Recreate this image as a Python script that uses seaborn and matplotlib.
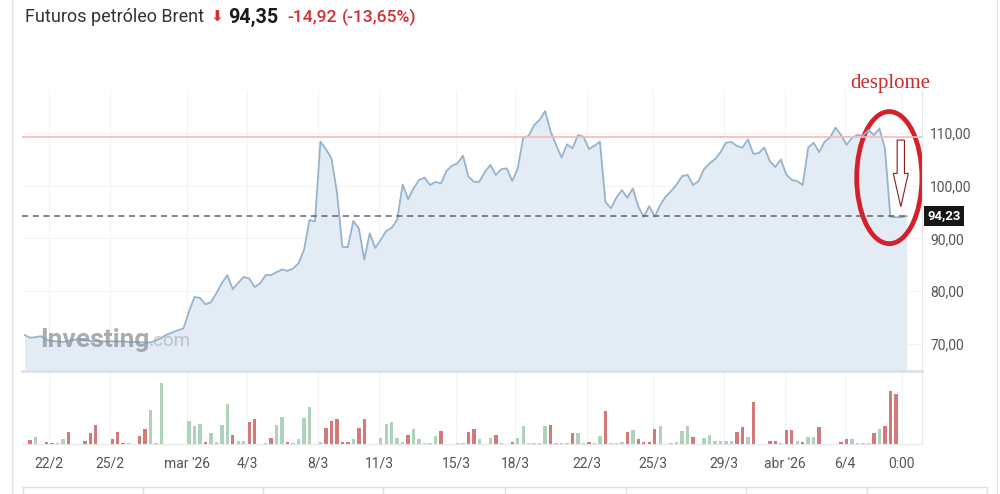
import numpy as np
import pandas as pd
import seaborn as sns
import matplotlib.pyplot as plt
from matplotlib.patches import Ellipse, FancyArrow
from matplotlib.lines import Line2D

# price (close) per bar, bar index -1 .. 160
price = [71.7, 71.2, 71.3, 71.5, 70.8, 70.6, 70.5, 70.4, 70.6, 70.8,
         70.9, 70.7, 70.6, 70.55, 70.5, 70.5, 70.55, 70.5, 70.5, 70.4,
         70.4, 70.35, 70.3, 70.3, 70.7, 71.2, 71.8, 72.2, 72.6, 72.95,
         76.1, 78.9, 78.75, 77.5, 77.9, 79.6, 81.5, 83.05, 80.4, 81.6,
         82.7, 82.4, 80.8, 81.5, 83.05, 83.05, 83.6, 84.1, 83.85, 84.3,
         85.3, 87.8, 93.5, 93.2, 108.3, 106.9, 105.15, 98.8, 88.4, 88.35,
         93.3, 91.9, 86.0, 90.95, 88.2, 89.7, 91.4, 92.0, 93.5, 100.2,
         97.4, 99.5, 101.05, 101.5, 100.1, 100.7, 100.4, 102.75, 103.75, 104.2,
         105.65, 101.7, 100.7, 100.7, 102.6, 103.9, 102.0, 103.1, 103.25, 100.85,
         103.25, 109.05, 109.4, 111.45, 112.4, 114.1, 110.2, 107.7, 105.3, 107.8,
         107.05, 109.55, 109.25, 106.9, 107.55, 108.3, 96.9, 95.7, 97.7, 99.15,
         97.7, 99.45, 96.0, 94.1, 96.1, 94.1, 96.3, 97.9, 98.95, 100.2,
         101.8, 102.0, 100.1, 100.85, 103.1, 104.2, 105.0, 106.3, 108.1, 108.25,
         107.5, 107.15, 108.75, 106.0, 106.15, 107.2, 104.6, 103.5, 104.95, 102.1,
         101.05, 100.85, 100.1, 107.15, 108.1, 106.3, 108.3, 109.1, 110.95, 109.55,
         107.7, 109.05, 109.55, 109.4, 110.5, 109.55, 110.8, 107.05, 94.1, 94.0,
         94.0, 94.23]
price_x = np.arange(-1, len(price) - 1)

# volume per bar (0 .. 158) and direction g=up r=down
vol = [12, 22, 0, 6, 2, 2, 15, 35, 0, 0,
       8, 32, 58, 0, 0, 15, 35, 4, 4, 0,
       25, 45, 101, 2, 183, 0, 0, 0, 0, 68,
       53, 60, 6, 32, 6, 58, 119, 28, 10, 10,
       67, 75, 0, 3, 19, 58, 81, 5, 4, 14,
       77, 110, 0, 5, 48, 68, 75, 6, 5, 15,
       48, 75, 0, 1, 18, 60, 67, 18, 6, 28,
       45, 15, 4, 2, 23, 38, 0, 0, 2, 4,
       35, 45, 15, 0, 18, 28, 3, 0, 5, 18,
       55, 4, 4, 4, 55, 58, 2, 2, 2, 32,
       33, 3, 5, 3, 25, 98, 2, 2, 6, 35,
       42, 15, 6, 6, 45, 53, 0, 2, 6, 38,
       55, 20, 0, 18, 27, 8, 8, 8, 8, 35,
       52, 22, 127, 0, 0, 8, 10, 3, 42, 42,
       8, 5, 22, 22, 52, 0, 1, 1, 6, 15,
       15, 3, 3, 3, 32, 45, 55, 160, 150]
vol_dir = list("rggrrggrgg" "rrrggrrrgg" "rrgggggggg" "ggrggggrgg"
               "rrggrggrgg" "ggggrrrrrg" "rrgggggggr" "gggggrgggg"
               "rrgggrggrg" "gggggrgggr" "ggrggrgggr" "grrrrggggg"
               "grgggggggr" "rgrggrrgrr" "grggrgggrr" "ggggrgrrr")

tick_pos = [3.5, 14.6, 28.6, 39.6, 52.6, 63.7, 77.8, 88.5, 101.6, 113.7, 126.7, 137.7, 148.7, 159.1]
tick_lab = ['22/2', '25/2', "mar '26", '4/3', '8/3', '11/3', '15/3', '18/3', '22/3', '25/3',
            '29/3', "abr '26", '6/4', '0:00']
y_ticks = [70, 80, 90, 100, 110]
prev_close = 109.27
last = 94.23

sns.set_style('white')
plt.rcParams['font.family'] = ['Roboto', 'DejaVu Sans']

fig = plt.figure(figsize=(10, 4.94), dpi=100)
ax = fig.add_axes([0.022, 0.249, 0.9, 0.569])
axv = fig.add_axes([0.022, 0.1012, 0.9, 0.1437], sharex=ax)

# price area
df = pd.DataFrame({'x': price_x, 'p': price})
ax.fill_between(df['x'], df['p'], 60, color='#e3ecf5', lw=0)
sns.lineplot(data=df, x='x', y='p', ax=ax, color='#96b3cd', lw=1.3)
ax.axhline(prev_close, color='#f4b9b9', lw=1.2)
ax.hlines(last, -1.46, price_x[-1], colors='#5d6470', linestyles=(0, (4, 3)), lw=1.1)

ax.set_xlim(-1.46, 162.77)
ax.set_ylim(64.9, 118.1)
ax.yaxis.tick_right()
ax.set_yticks(y_ticks)
ax.set_yticklabels([f'{v:.2f}'.replace('.', ',') for v in y_ticks], color='#555555', fontsize=10)
ax.tick_params(axis='y', length=0, pad=6)
ax.tick_params(axis='x', length=0, labelbottom=False)
ax.set_xticks(tick_pos)
ax.grid(True, color='#f3f3f3', lw=0.8)
ax.set_xlabel('')
ax.set_ylabel('')
for s in ['top', 'left']:
    ax.spines[s].set_visible(False)
ax.spines['right'].set_color('#e6e6e6')
ax.spines['bottom'].set_color('#dbe2ea')
ax.spines['bottom'].set_linewidth(2)

ax.annotate(f'{last:.2f}'.replace('.', ','), xy=(1.0, last), xycoords=('axes fraction', 'data'),
            xytext=(4, 0), textcoords='offset points', ha='left', va='center',
            color='white', fontsize=9.5, fontweight='bold',
            bbox=dict(boxstyle='square,pad=0.25', fc='#161616', ec='none'))

# watermark
ax.text(0.02, 0.11, 'Investing', transform=ax.transAxes, fontsize=19, fontweight='bold',
        color='#8d9298', alpha=0.75, va='center')
ax.text(0.141, 0.105, '.com', transform=ax.transAxes, fontsize=13.5,
        color='#b4b8bd', alpha=0.8, va='center')

# annotation
ax.add_patch(Ellipse((156.8, 101.5), 11.9, 25, fill=False, ec='#d3202a', lw=3.4))
ax.add_patch(FancyArrow(158.9, 108.6, 0, -6.3, width=1.33, head_width=2.74, head_length=6.3,
                        length_includes_head=False, fc='white', ec='#8b1c1c', lw=0.8))
ax.text(156.9, 119.4, 'desplome', color='#cc2a2a', fontsize=15, family='Liberation Serif',
        ha='center', va='center')

# volume
dv = pd.DataFrame({'i': np.arange(len(vol)), 'v': vol, 'd': vol_dir})
sns.barplot(data=dv, x='i', y='v', hue='d', palette={'g': '#a8d8b8', 'r': '#e26a6a'},
            dodge=False, native_scale=True, width=0.62, errorbar=None, legend=False,
            linewidth=0, edgecolor='none', ax=axv)
axv.set_ylim(0, 213)
axv.set_xlim(-1.46, 162.77)
axv.set_xticks(tick_pos)
axv.set_xticklabels(tick_lab, color='#555555', fontsize=10)
axv.tick_params(axis='x', length=0, pad=9)
axv.set_yticks([])
axv.set_xlabel('')
axv.set_ylabel('')
axv.grid(True, axis='x', color='#f3f3f3', lw=0.8)
for s in ['top', 'left']:
    axv.spines[s].set_visible(False)
axv.spines['right'].set_color('#e6e6e6')
axv.spines['bottom'].set_color('#e6e6e6')

# header
ty = 1 - 17 / 494
fig.text(0.025, ty, 'Futuros petróleo Brent', fontsize=13, color='#333333', va='center')
fig.text(0.210, ty, '⬇', fontsize=11, color='#d32f2f', va='center', family=['DejaVu Sans'])
fig.text(0.228, ty, '94,35', fontsize=14.2, fontweight='bold', color='#1a1a1a', va='center')
fig.text(0.287, ty, '-14,92', fontsize=12.6, fontweight='medium', color='#d32f2f', va='center')
fig.text(0.342, ty, '(-13,65%)', fontsize=12.6, fontweight='medium', color='#d32f2f', va='center')

# widget frame
fig.add_artist(Line2D([0.012, 0.012], [0, 1], color='#e3e3e3', lw=1))
fig.add_artist(Line2D([0.997, 0.997], [0, 1], color='#e3e3e3', lw=1))
yb = 1 - 487 / 494
fig.add_artist(Line2D([0.022, 0.987], [yb, yb], color='#e0e0e0', lw=1))
for xd in [23, 143, 263, 383, 505, 626, 746, 867, 987]:
    fig.add_artist(Line2D([xd / 1000, xd / 1000], [0, yb], color='#e0e0e0', lw=1))

fig.savefig('out.png', dpi=100)
